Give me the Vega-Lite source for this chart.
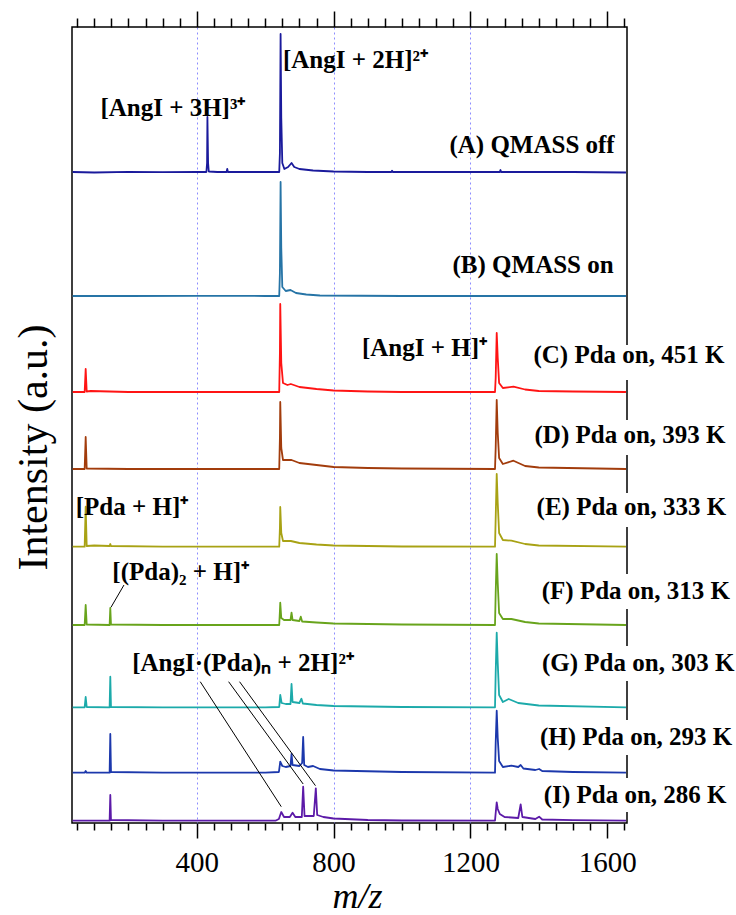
{
  "$schema": "https://vega.github.io/schema/vega-lite/v6.json",
  "width": 555,
  "height": 796,
  "autosize": {"type": "none"},
  "padding": {"left": 72, "top": 27, "right": 109, "bottom": 92},
  "background": "white",
  "config": {"view": {"stroke": "black", "strokeWidth": 1.5}},
  "datasets": {
    "spectra": [
      {"t":"A","mz":37,"y":651},{"t":"A","mz":100,"y":650.5},{"t":"A","mz":200,"y":651.2},{"t":"A","mz":300,"y":650.8},{"t":"A","mz":400,"y":651},{"t":"A","mz":428,"y":651},{"t":"A","mz":430,"y":660},{"t":"A","mz":431,"y":706},{"t":"A","mz":433,"y":660},{"t":"A","mz":435,"y":651.5},{"t":"A","mz":460,"y":651},{"t":"A","mz":487,"y":651},{"t":"A","mz":489,"y":654},{"t":"A","mz":491,"y":651},{"t":"A","mz":560,"y":651},{"t":"A","mz":641,"y":651},{"t":"A","mz":643,"y":670},{"t":"A","mz":645,"y":789},{"t":"A","mz":647,"y":705},{"t":"A","mz":650,"y":660},{"t":"A","mz":656,"y":654},{"t":"A","mz":667,"y":656},{"t":"A","mz":677,"y":660},{"t":"A","mz":685,"y":656},{"t":"A","mz":700,"y":654},{"t":"A","mz":740,"y":652.5},{"t":"A","mz":800,"y":651.5},{"t":"A","mz":900,"y":651},{"t":"A","mz":969,"y":651},{"t":"A","mz":971,"y":652.3},{"t":"A","mz":973,"y":651},{"t":"A","mz":1100,"y":651},{"t":"A","mz":1200,"y":651},{"t":"A","mz":1286,"y":651},{"t":"A","mz":1288,"y":653},{"t":"A","mz":1290,"y":651},{"t":"A","mz":1400,"y":651},{"t":"A","mz":1500,"y":651},{"t":"A","mz":1655,"y":650.5},
      {"t":"B","mz":37,"y":527},{"t":"B","mz":200,"y":527},{"t":"B","mz":400,"y":527.2},{"t":"B","mz":600,"y":527},{"t":"B","mz":641,"y":527},{"t":"B","mz":643,"y":550},{"t":"B","mz":645,"y":641},{"t":"B","mz":647,"y":575},{"t":"B","mz":650,"y":536},{"t":"B","mz":660,"y":532},{"t":"B","mz":674,"y":533},{"t":"B","mz":690,"y":530},{"t":"B","mz":720,"y":528.5},{"t":"B","mz":760,"y":527.5},{"t":"B","mz":1000,"y":527},{"t":"B","mz":1655,"y":527},
      {"t":"C","mz":37,"y":431},{"t":"C","mz":72,"y":431},{"t":"C","mz":75,"y":454},{"t":"C","mz":78,"y":431.5},{"t":"C","mz":90,"y":432},{"t":"C","mz":200,"y":431},{"t":"C","mz":400,"y":431},{"t":"C","mz":600,"y":431},{"t":"C","mz":641,"y":431},{"t":"C","mz":643,"y":470},{"t":"C","mz":644,"y":519},{"t":"C","mz":647,"y":460},{"t":"C","mz":652,"y":440},{"t":"C","mz":665,"y":438},{"t":"C","mz":675,"y":439},{"t":"C","mz":700,"y":436},{"t":"C","mz":750,"y":434},{"t":"C","mz":800,"y":432.5},{"t":"C","mz":900,"y":431.5},{"t":"C","mz":1000,"y":431},{"t":"C","mz":1200,"y":431},{"t":"C","mz":1272,"y":431},{"t":"C","mz":1274,"y":445},{"t":"C","mz":1277,"y":490},{"t":"C","mz":1280,"y":465},{"t":"C","mz":1284,"y":440},{"t":"C","mz":1295,"y":435},{"t":"C","mz":1326,"y":436.3},{"t":"C","mz":1360,"y":433.5},{"t":"C","mz":1400,"y":432},{"t":"C","mz":1500,"y":431.5},{"t":"C","mz":1655,"y":431},
      {"t":"D","mz":37,"y":354},{"t":"D","mz":72,"y":354},{"t":"D","mz":75,"y":386},{"t":"D","mz":78,"y":354.5},{"t":"D","mz":200,"y":354},{"t":"D","mz":400,"y":354},{"t":"D","mz":600,"y":354},{"t":"D","mz":641,"y":354},{"t":"D","mz":643,"y":385},{"t":"D","mz":644,"y":421},{"t":"D","mz":647,"y":375},{"t":"D","mz":652,"y":363},{"t":"D","mz":677,"y":363},{"t":"D","mz":700,"y":360},{"t":"D","mz":750,"y":358},{"t":"D","mz":800,"y":356},{"t":"D","mz":900,"y":355},{"t":"D","mz":1000,"y":354.5},{"t":"D","mz":1272,"y":354},{"t":"D","mz":1274,"y":375},{"t":"D","mz":1277,"y":423},{"t":"D","mz":1280,"y":390},{"t":"D","mz":1284,"y":365},{"t":"D","mz":1295,"y":359},{"t":"D","mz":1326,"y":362.3},{"t":"D","mz":1360,"y":357},{"t":"D","mz":1400,"y":355.5},{"t":"D","mz":1655,"y":354},
      {"t":"E","mz":37,"y":276.3},{"t":"E","mz":72,"y":276.3},{"t":"E","mz":75,"y":316.3},{"t":"E","mz":78,"y":277},{"t":"E","mz":100,"y":277.5},{"t":"E","mz":145,"y":277},{"t":"E","mz":147,"y":279},{"t":"E","mz":149,"y":277},{"t":"E","mz":300,"y":276.3},{"t":"E","mz":600,"y":276.3},{"t":"E","mz":641,"y":276.3},{"t":"E","mz":643,"y":295},{"t":"E","mz":644,"y":316},{"t":"E","mz":647,"y":290},{"t":"E","mz":652,"y":282},{"t":"E","mz":675,"y":282},{"t":"E","mz":700,"y":280},{"t":"E","mz":750,"y":278.5},{"t":"E","mz":800,"y":277.5},{"t":"E","mz":1000,"y":276.5},{"t":"E","mz":1272,"y":276.3},{"t":"E","mz":1274,"y":305},{"t":"E","mz":1277,"y":349},{"t":"E","mz":1280,"y":320},{"t":"E","mz":1284,"y":290},{"t":"E","mz":1295,"y":283},{"t":"E","mz":1320,"y":282.3},{"t":"E","mz":1360,"y":279},{"t":"E","mz":1400,"y":277.5},{"t":"E","mz":1655,"y":276.3},
      {"t":"F","mz":37,"y":198},{"t":"F","mz":72,"y":198},{"t":"F","mz":75,"y":218},{"t":"F","mz":78,"y":198.5},{"t":"F","mz":145,"y":198},{"t":"F","mz":147,"y":215},{"t":"F","mz":149,"y":198.5},{"t":"F","mz":300,"y":198},{"t":"F","mz":600,"y":198},{"t":"F","mz":641,"y":198},{"t":"F","mz":643,"y":212},{"t":"F","mz":644,"y":220.3},{"t":"F","mz":647,"y":205},{"t":"F","mz":655,"y":203},{"t":"F","mz":674,"y":203},{"t":"F","mz":677,"y":210.3},{"t":"F","mz":680,"y":203},{"t":"F","mz":700,"y":202},{"t":"F","mz":704,"y":206.3},{"t":"F","mz":708,"y":201.5},{"t":"F","mz":750,"y":200.5},{"t":"F","mz":800,"y":199.5},{"t":"F","mz":1000,"y":198.5},{"t":"F","mz":1272,"y":198},{"t":"F","mz":1274,"y":230},{"t":"F","mz":1277,"y":269},{"t":"F","mz":1280,"y":240},{"t":"F","mz":1284,"y":210},{"t":"F","mz":1295,"y":204},{"t":"F","mz":1320,"y":204},{"t":"F","mz":1360,"y":201},{"t":"F","mz":1400,"y":199.5},{"t":"F","mz":1655,"y":198},
      {"t":"G","mz":37,"y":115.7},{"t":"G","mz":72,"y":115.7},{"t":"G","mz":75,"y":126},{"t":"G","mz":78,"y":116},{"t":"G","mz":145,"y":115.7},{"t":"G","mz":147,"y":146.3},{"t":"G","mz":149,"y":116},{"t":"G","mz":300,"y":115.7},{"t":"G","mz":600,"y":115.7},{"t":"G","mz":641,"y":116},{"t":"G","mz":643,"y":124},{"t":"G","mz":644,"y":128},{"t":"G","mz":648,"y":120},{"t":"G","mz":660,"y":119},{"t":"G","mz":674,"y":119},{"t":"G","mz":677,"y":139},{"t":"G","mz":680,"y":121},{"t":"G","mz":700,"y":120},{"t":"G","mz":706,"y":124.3},{"t":"G","mz":710,"y":119.5},{"t":"G","mz":750,"y":118},{"t":"G","mz":800,"y":117},{"t":"G","mz":1000,"y":116},{"t":"G","mz":1272,"y":115.7},{"t":"G","mz":1274,"y":150},{"t":"G","mz":1277,"y":190.3},{"t":"G","mz":1280,"y":160},{"t":"G","mz":1284,"y":128},{"t":"G","mz":1295,"y":121},{"t":"G","mz":1312,"y":124},{"t":"G","mz":1340,"y":120},{"t":"G","mz":1400,"y":117.5},{"t":"G","mz":1655,"y":115.7},
      {"t":"H","mz":37,"y":50.3},{"t":"H","mz":72,"y":50.3},{"t":"H","mz":75,"y":52},{"t":"H","mz":78,"y":50.3},{"t":"H","mz":145,"y":50.3},{"t":"H","mz":147,"y":89},{"t":"H","mz":149,"y":51},{"t":"H","mz":300,"y":50.3},{"t":"H","mz":600,"y":50.3},{"t":"H","mz":640,"y":51},{"t":"H","mz":644,"y":61.3},{"t":"H","mz":650,"y":57},{"t":"H","mz":660,"y":56},{"t":"H","mz":674,"y":57},{"t":"H","mz":677,"y":69},{"t":"H","mz":680,"y":58},{"t":"H","mz":700,"y":57},{"t":"H","mz":708,"y":60},{"t":"H","mz":711,"y":86},{"t":"H","mz":714,"y":58},{"t":"H","mz":725,"y":56},{"t":"H","mz":740,"y":57},{"t":"H","mz":760,"y":54},{"t":"H","mz":800,"y":52.5},{"t":"H","mz":1000,"y":51},{"t":"H","mz":1272,"y":50.3},{"t":"H","mz":1274,"y":80},{"t":"H","mz":1277,"y":112.3},{"t":"H","mz":1280,"y":85},{"t":"H","mz":1284,"y":62},{"t":"H","mz":1295,"y":56},{"t":"H","mz":1320,"y":57.3},{"t":"H","mz":1340,"y":56},{"t":"H","mz":1347,"y":58},{"t":"H","mz":1355,"y":54.5},{"t":"H","mz":1390,"y":53},{"t":"H","mz":1401,"y":54},{"t":"H","mz":1410,"y":52},{"t":"H","mz":1500,"y":51},{"t":"H","mz":1655,"y":50.3},
      {"t":"I","mz":37,"y":2.3},{"t":"I","mz":72,"y":2.3},{"t":"I","mz":145,"y":2.3},{"t":"I","mz":147,"y":28},{"t":"I","mz":149,"y":3},{"t":"I","mz":300,"y":2.3},{"t":"I","mz":630,"y":2.3},{"t":"I","mz":640,"y":4},{"t":"I","mz":647,"y":11},{"t":"I","mz":655,"y":6},{"t":"I","mz":672,"y":6},{"t":"I","mz":680,"y":10.3},{"t":"I","mz":688,"y":6},{"t":"I","mz":707,"y":6},{"t":"I","mz":711,"y":36.3},{"t":"I","mz":715,"y":7},{"t":"I","mz":742,"y":7},{"t":"I","mz":748,"y":34.7},{"t":"I","mz":752,"y":8},{"t":"I","mz":770,"y":6},{"t":"I","mz":800,"y":4.5},{"t":"I","mz":900,"y":3},{"t":"I","mz":1000,"y":2.5},{"t":"I","mz":1272,"y":2.3},{"t":"I","mz":1274,"y":10},{"t":"I","mz":1277,"y":20.7},{"t":"I","mz":1280,"y":14},{"t":"I","mz":1286,"y":9},{"t":"I","mz":1300,"y":6},{"t":"I","mz":1340,"y":5},{"t":"I","mz":1347,"y":18.7},{"t":"I","mz":1352,"y":6},{"t":"I","mz":1390,"y":4},{"t":"I","mz":1401,"y":6.3},{"t":"I","mz":1410,"y":3.5},{"t":"I","mz":1500,"y":2.8},{"t":"I","mz":1655,"y":2.3}
    ],
    "traceLabels": [
      {"text":"(A) QMASS off","mz":1622,"y":678},
      {"text":"(B) QMASS on","mz":1619,"y":558},
      {"text":"(C) Pda on, 451 K","mz":1943,"y":468},
      {"text":"(D) Pda on, 393 K","mz":1946,"y":388},
      {"text":"(E) Pda on, 333 K","mz":1948,"y":316},
      {"text":"(F) Pda on, 313 K","mz":1959,"y":232},
      {"text":"(G) Pda on, 303 K","mz":1972,"y":160},
      {"text":"(H) Pda on, 293 K","mz":1966,"y":86},
      {"text":"(I) Pda on, 286 K","mz":1949,"y":28}
    ],
    "labelBoxes": [
      {"mz":1640,"mz2":1690,"y":443,"y2":478},
      {"mz":1640,"mz2":1690,"y":368,"y2":403},
      {"mz":1640,"mz2":1690,"y":296,"y2":330},
      {"mz":1640,"mz2":1690,"y":214,"y2":249},
      {"mz":1640,"mz2":1690,"y":142,"y2":177},
      {"mz":1640,"mz2":1690,"y":68,"y2":103},
      {"mz":1640,"mz2":1690,"y":11,"y2":45}
    ],
    "peakLabels": [
      {"text":"[AngI + 2H]²⁺","mz":652,"y":763},
      {"text":"[AngI + 3H]³⁺","mz":118,"y":715},
      {"text":"[AngI + H]⁺","mz":883,"y":475},
      {"text":"[Pda + H]⁺","mz":46,"y":316},
      {"text":"[(Pda)₂ + H]⁺","mz":153,"y":251},
      {"text":"[AngI·(Pda)ₙ + 2H]²⁺","mz":211,"y":160}
    ],
    "leaders": [
      {"mz":187,"y":238,"mz2":149,"y2":215.7},
      {"mz":410,"y":141.3,"mz2":647,"y2":16.3},
      {"mz":493,"y":141.3,"mz2":711,"y2":39},
      {"mz":525,"y":141.3,"mz2":747,"y2":37.3}
    ]
  },
  "resolve": {"axis": {"x": "independent", "y": "independent"}},
  "layer": [
    {
      "data": {"name": "spectra"},
      "mark": {"type": "line", "strokeWidth": 1.8, "strokeJoin": "round"},
      "encoding": {
        "x": {
          "field": "mz", "type": "quantitative",
          "scale": {"domain": [35, 1658], "nice": false, "zero": false},
          "axis": {
            "orient": "bottom",
            "values": [50,100,150,200,250,300,350,400,450,500,550,600,650,700,750,800,850,900,950,1000,1050,1100,1150,1200,1250,1300,1350,1400,1450,1500,1550,1600,1650],
            "domain": false,
            "tickColor": "black", "tickWidth": 1.5,
            "tickSize": {"condition": {"test": "datum.value % 400 === 0", "value": 15}, "value": 7},
            "labelExpr": "datum.value % 400 === 0 ? datum.label : ''",
            "format": "d",
            "labelFont": "Liberation Serif", "labelFontSize": 29, "labelColor": "black",
            "labelPadding": 10, "labelOverlap": false, "labelFlush": false,
            "grid": true, "gridColor": "#8c8cff", "gridDash": [2, 3], "gridWidth": 1,
            "gridOpacity": {"condition": {"test": "datum.value % 400 === 0 && datum.value < 1600", "value": 1}, "value": 0},
            "title": "m/z", "titleFont": "Liberation Serif", "titleFontStyle": "italic", "titleFontWeight": "normal",
            "titleFontSize": 36, "titleColor": "black", "titleX": 285, "titleY": 84, "titleBaseline": "alphabetic"
          }
        },
        "y": {
          "field": "y", "type": "quantitative",
          "scale": {"domain": [0, 796], "nice": false, "zero": false},
          "axis": {
            "domain": false, "ticks": false, "labels": false, "grid": false,
            "title": "Intensity (a.u.)", "titleFont": "Liberation Serif", "titleFontWeight": "normal",
            "titleFontSize": 42, "titleColor": "black", "titleAngle": -90,
            "titleX": -39, "titleY": 420, "titleAlign": "center", "titleBaseline": "middle"
          }
        },
        "color": {
          "field": "t", "type": "nominal",
          "scale": {"domain": ["A","B","C","D","E","F","G","H","I"],
                    "range": ["#1a1a9c","#2674a6","#ff1414","#a23c0c","#a8a214","#68a41c","#1caaaa","#1c38ac","#5c1aa8"]},
          "legend": null
        }
      }
    },
    {
      "data": {"name": "labelBoxes"},
      "mark": {"type": "rect", "fill": "white"},
      "encoding": {
        "x": {
          "field": "mz", "type": "quantitative",
          "scale": {"domain": [35, 1658], "nice": false, "zero": false},
          "axis": {
            "orient": "top",
            "values": [50,100,150,200,250,300,350,400,450,500,550,600,650,700,750,800,850,900,950,1000,1050,1100,1150,1200,1250,1300,1350,1400,1450,1500,1550,1600,1650],
            "domain": false, "labels": false, "grid": false, "title": null,
            "tickColor": "black", "tickWidth": 1.5,
            "tickSize": {"condition": {"test": "datum.value % 400 === 0", "value": 16}, "value": 9}
          }
        },
        "x2": {"field": "mz2"},
        "y": {"field": "y", "type": "quantitative", "scale": {"domain": [0, 796], "nice": false, "zero": false}, "axis": null},
        "y2": {"field": "y2"}
      }
    },
    {
      "data": {"name": "leaders"},
      "mark": {"type": "rule", "color": "black", "strokeWidth": 1},
      "encoding": {
        "x": {"field": "mz", "type": "quantitative", "scale": {"domain": [35, 1658], "nice": false, "zero": false}, "axis": null},
        "x2": {"field": "mz2"},
        "y": {"field": "y", "type": "quantitative", "scale": {"domain": [0, 796], "nice": false, "zero": false}, "axis": null},
        "y2": {"field": "y2"}
      }
    },
    {
      "data": {"name": "traceLabels"},
      "mark": {"type": "text", "align": "right", "baseline": "middle", "font": "Liberation Serif", "fontWeight": "bold", "fontSize": 25, "color": "black"},
      "encoding": {
        "x": {"field": "mz", "type": "quantitative", "scale": {"domain": [35, 1658], "nice": false, "zero": false}, "axis": null},
        "y": {"field": "y", "type": "quantitative", "scale": {"domain": [0, 796], "nice": false, "zero": false}, "axis": null},
        "text": {"field": "text"}
      }
    },
    {
      "data": {"name": "peakLabels"},
      "mark": {"type": "text", "align": "left", "baseline": "middle", "font": "Liberation Serif", "fontWeight": "bold", "fontSize": 25, "color": "black"},
      "encoding": {
        "x": {"field": "mz", "type": "quantitative", "scale": {"domain": [35, 1658], "nice": false, "zero": false}, "axis": null},
        "y": {"field": "y", "type": "quantitative", "scale": {"domain": [0, 796], "nice": false, "zero": false}, "axis": null},
        "text": {"field": "text"}
      }
    }
  ]
}
